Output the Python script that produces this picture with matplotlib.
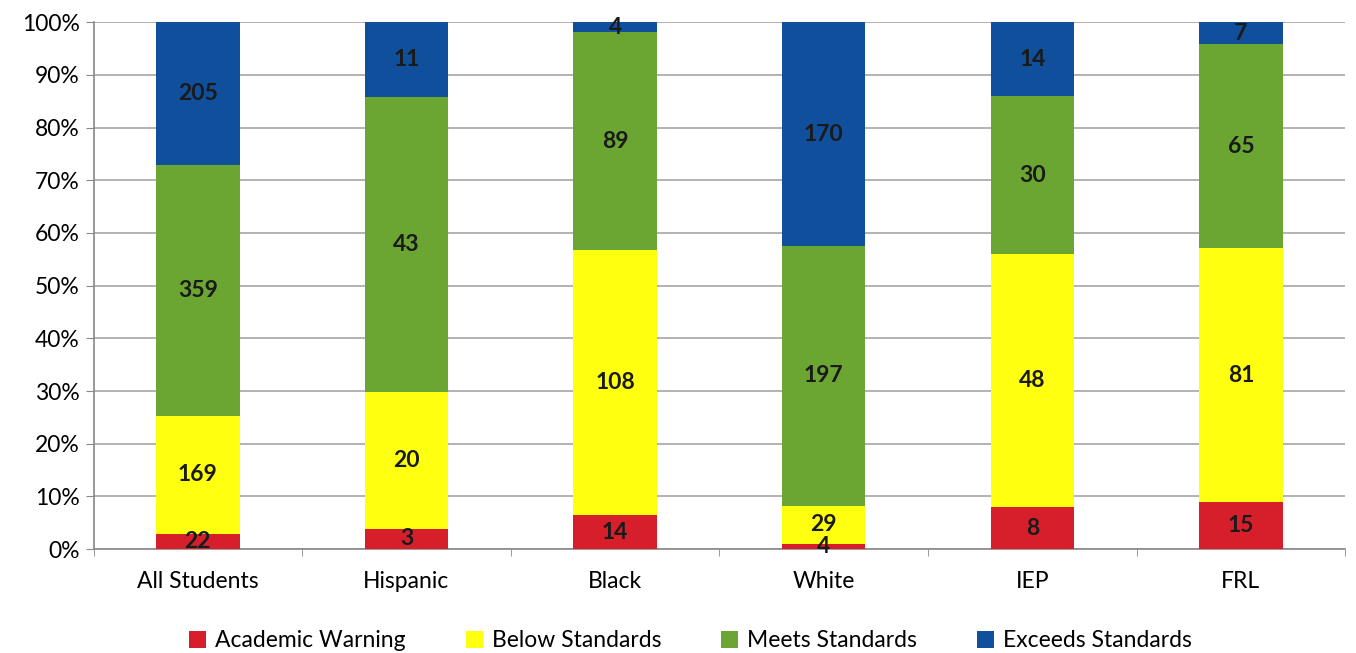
import numpy as np
import matplotlib.pyplot as plt
from matplotlib import rcParams

rcParams['font.family'] = ['Lato', 'DejaVu Sans']
rcParams['font.size'] = 16.5

# student counts per performance level
groups = ['All Students', 'Hispanic', 'Black', 'White', 'IEP', 'FRL']
levels = ['Academic Warning', 'Below Standards', 'Meets Standards', 'Exceeds Standards']
warning = [22, 3, 14, 4, 8, 15]
below = [169, 20, 108, 29, 48, 81]
meets = [359, 43, 89, 197, 30, 65]
exceeds = [205, 11, 4, 170, 14, 7]

colors = ['#d71f2b', '#ffff10', '#6ba632', '#0f4f9b']

counts = np.array([warning, below, meets, exceeds], dtype=float)
shares = counts / counts.sum(axis=0)

fig = plt.figure(figsize=(13.56, 6.53), dpi=100)
ax = fig.add_axes([0.069, 0.159, 0.923, 0.807])

x = np.arange(len(groups))
bottom = np.zeros(len(groups))
for i in range(4):
    bars = ax.bar(x, shares[i], 0.4, bottom=bottom, color=colors[i],
                  label=levels[i], zorder=3)
    for j in range(len(groups)):
        ax.text(x[j], bottom[j] + shares[i][j] / 2, '%d' % counts[i][j],
                ha='center', va='center', fontsize=16.5, fontweight='bold',
                color='#1a1a1a', zorder=4)
    bottom += shares[i]

ax.set_xlim(-0.5, len(groups) - 0.5)
ax.set_ylim(0, 1)
ax.set_yticks(np.arange(0, 1.01, 0.1))
ax.set_yticklabels(['%d%%' % v for v in range(0, 101, 10)])
ax.set_xticks(x)
ax.set_xticklabels(groups)
ax.set_xticks(np.arange(-0.5, len(groups)), minor=True)
ax.tick_params(axis='x', which='major', length=0, pad=16)
ax.tick_params(axis='x', which='minor', length=5, color='#888888')
ax.tick_params(axis='y', length=6, color='#888888', pad=4)
ax.yaxis.grid(True, color='#a6a6a6', linewidth=1.2, zorder=0)
for s in ['top', 'right']:
    ax.spines[s].set_visible(False)
for s in ['left', 'bottom']:
    ax.spines[s].set_color('#888888')
    ax.spines[s].set_linewidth(1.2)

ax.legend(loc='upper center', bbox_to_anchor=(0.477, -0.115), ncol=4,
          frameon=False, fontsize=16.5, handlelength=0.75, handleheight=0.75,
          columnspacing=2.6, handletextpad=0.4)

plt.savefig('out.png', dpi=100)
